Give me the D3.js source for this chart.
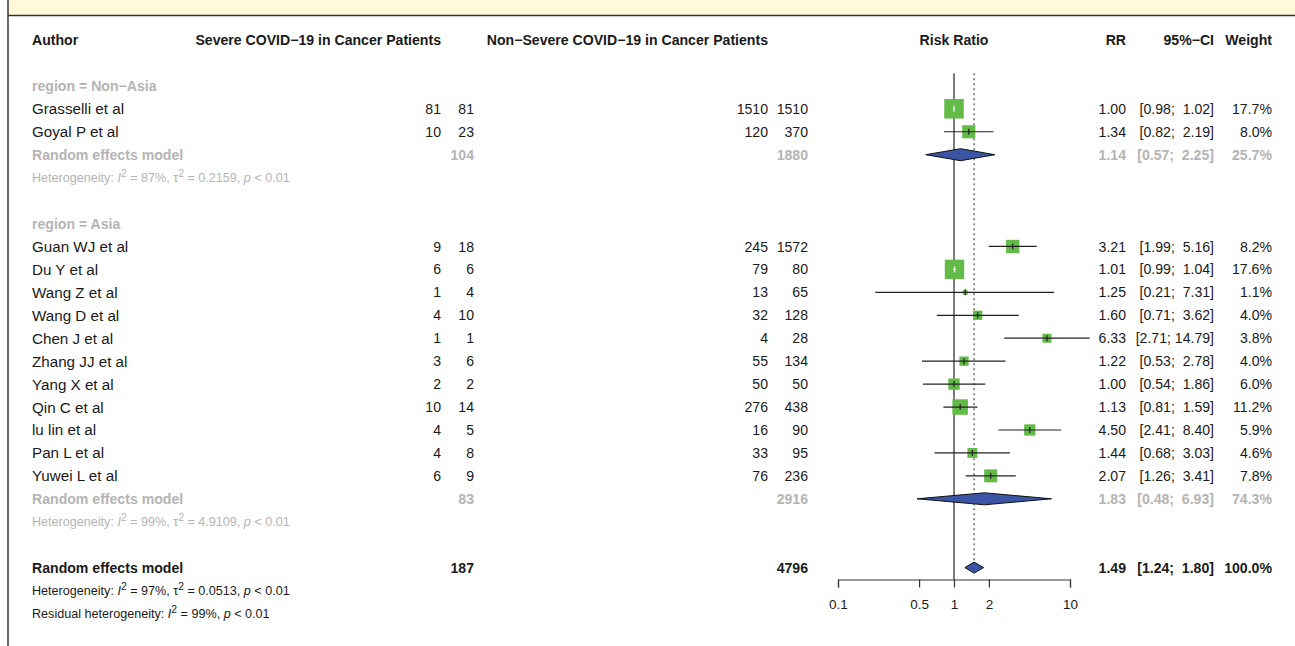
<!DOCTYPE html>
<html>
<head>
<meta charset="utf-8">
<script src="https://cdn.jsdelivr.net/npm/d3@7"></script>
<style>
  html, body { margin: 0; padding: 0; background: #fff; }
  svg text { font-family: "Liberation Sans", Arial, Helvetica, sans-serif; white-space: pre; }
</style>
</head>
<body>
<div id="chart"></div>
<script>
// study data
const authors = ["Grasselli et al", "Goyal P et al", "Guan WJ et al", "Du Y et al", "Wang Z et al", "Wang D et al",
  "Chen J et al", "Zhang JJ et al", "Yang X et al", "Qin C et al", "lu lin et al", "Pan L et al", "Yuwei L et al"];
const regions = ["Non-Asia", "Non-Asia", "Asia", "Asia", "Asia", "Asia", "Asia", "Asia", "Asia", "Asia", "Asia", "Asia", "Asia"];
const evSevere = [81, 10, 9, 6, 1, 4, 1, 3, 2, 10, 4, 4, 6];
const nSevere = [81, 23, 18, 6, 4, 10, 1, 6, 2, 14, 5, 8, 9];
const evNon = [1510, 120, 245, 79, 13, 32, 4, 55, 50, 276, 16, 33, 76];
const nNon = [1510, 370, 1572, 80, 65, 128, 28, 134, 50, 438, 90, 95, 236];
const rr = [1.00, 1.34, 3.21, 1.01, 1.25, 1.60, 6.33, 1.22, 1.00, 1.13, 4.50, 1.44, 2.07];
const lower = [0.98, 0.82, 1.99, 0.99, 0.21, 0.71, 2.71, 0.53, 0.54, 0.81, 2.41, 0.68, 1.26];
const upper = [1.02, 2.19, 5.16, 1.04, 7.31, 3.62, 14.79, 2.78, 1.86, 1.59, 8.40, 3.03, 3.41];
const weight = [17.7, 8.0, 8.2, 17.6, 1.1, 4.0, 3.8, 4.0, 6.0, 11.2, 5.9, 4.6, 7.8];

// subgroup summaries
const groups = ["Non-Asia", "Asia"];
const groupLabels = ["region = Non\u2212Asia", "region = Asia"];
const groupNSevere = [104, 83];
const groupNNon = [1880, 2916];
const groupRR = [1.14, 1.83];
const groupLower = [0.57, 0.48];
const groupUpper = [2.25, 6.93];
const groupWeight = [25.7, 74.3];
const groupI2 = ["87%", "99%"];
const groupTau2 = ["0.2159", "4.9109"];

// overall
const overall = {nSevere: 187, nNon: 4796, rr: 1.49, lower: 1.24, upper: 1.80, weight: 100.0, i2: "97%", tau2: "0.0513", residI2: "99%"};

const axisTicks = [0.1, 0.5, 1, 2, 10];

const W = 1295, H = 646;
const black = "#1a1a1a", grey = "#b4b4b4";
const green = "#63bb47", blue = "#3a55a3";

const svg = d3.select("#chart").append("svg").attr("width", W).attr("height", H);

// frame bits
svg.append("rect").attr("x", 8).attr("y", 0).attr("width", W - 8).attr("height", 15).attr("fill", "#fff9d9");
svg.append("line").attr("x1", 8).attr("x2", W).attr("y1", 15.5).attr("y2", 15.5).attr("stroke", "#333").attr("stroke-width", 1.6);
svg.append("line").attr("x1", 8).attr("x2", 8).attr("y1", 0).attr("y2", H).attr("stroke", "#444").attr("stroke-width", 1.6);

const x = d3.scaleLog().domain([0.1, 10]).range([838, 1070]);
const row = d3.scaleLinear().domain([0, 25]).range([40, 613.5]);
const side = d3.scaleSqrt().domain([0, 17.7]).range([0, 19.5]);

const colX = {author: 32, ev1: 441, n1: 474, ev2: 768, n2: 808, rr: 1126, ci: 1214, w: 1272};
const fs = 14.1, fsName = 15.2, fsSmall = 12.6;

function txt(xp, r, s, opt = {}) {
  return svg.append("text")
    .attr("x", xp).attr("y", row(r)).attr("dy", "0.36em")
    .attr("text-anchor", opt.anchor || "end")
    .attr("font-size", opt.size || fs)
    .attr("font-weight", opt.bold ? "bold" : "normal")
    .attr("fill", opt.color || black)
    .text(s);
}
const f2 = d3.format(".2f"), f1 = d3.format(".1f");
function ciText(l, u) {
  const a = f2(l), b = f2(u);
  return "[" + a + ";" + (b.length < 5 ? "  " : " ") + b + "]";
}

// header
txt(colX.author, 0, "Author", {anchor: "start", bold: true});
txt(colX.ev1, 0, "Severe COVID\u221219 in Cancer Patients", {bold: true});
txt(colX.ev2, 0, "Non\u2212Severe COVID\u221219 in Cancer Patients", {bold: true});
txt(x(1), 0, "Risk Ratio", {anchor: "middle", bold: true});
txt(colX.rr, 0, "RR", {bold: true});
txt(colX.ci, 0, "95%\u2212CI", {bold: true});
txt(colX.w, 0, "Weight", {bold: true});

function hetLine(r, color, i2, tau2, resid) {
  const t = svg.append("text").attr("x", colX.author).attr("y", row(r)).attr("dy", "0.36em")
    .attr("font-size", fsSmall).attr("fill", color);
  t.append("tspan").text(resid ? "Residual heterogeneity: " : "Heterogeneity: ");
  t.append("tspan").attr("font-style", "italic").text("I");
  t.append("tspan").attr("dy", "-0.5em").attr("font-size", fsSmall * 0.82).text("2");
  t.append("tspan").attr("dy", "0.41em").text(" = " + i2 + ", ");
  if (tau2 !== null) {
    t.append("tspan").text("\u03c4");
    t.append("tspan").attr("dy", "-0.5em").attr("font-size", fsSmall * 0.82).text("2");
    t.append("tspan").attr("dy", "0.41em").text(" = " + tau2 + ", ");
  }
  t.append("tspan").attr("font-style", "italic").text("p");
  t.append("tspan").text(" < 0.01");
}

function diamond(r, est, lo, hi, h) {
  const y = row(r);
  svg.append("path")
    .attr("d", d3.line()([[x(lo), y], [x(est), y - h / 2], [x(hi), y], [x(est), y + h / 2]]) + "Z")
    .attr("fill", blue).attr("stroke", "#111").attr("stroke-width", 1);
}

// reference lines
const axisY = 579.5;
svg.append("line").attr("x1", x(1)).attr("x2", x(1)).attr("y1", row(1.45)).attr("y2", axisY)
  .attr("stroke", "#444").attr("stroke-width", 1.4);
svg.append("line").attr("x1", x(overall.rr)).attr("x2", x(overall.rr)).attr("y1", row(1.45)).attr("y2", row(23) - 6)
  .attr("stroke", "#555").attr("stroke-width", 1.3).attr("stroke-dasharray", "2,3");

// rows
const groupStart = [2, 8];
groups.forEach((g, gi) => {
  const r0 = groupStart[gi];
  txt(colX.author, r0, groupLabels[gi], {anchor: "start", bold: true, color: grey});
  const idx = regions.map((d, i) => d === g ? i : -1).filter(i => i >= 0);
  idx.forEach((i, k) => {
    const r = r0 + 1 + k, y = row(r);
    txt(colX.author, r, authors[i], {anchor: "start", size: fsName});
    txt(colX.ev1, r, evSevere[i]);
    txt(colX.n1, r, nSevere[i]);
    txt(colX.ev2, r, evNon[i]);
    txt(colX.n2, r, nNon[i]);
    txt(colX.rr, r, f2(rr[i]));
    txt(colX.ci, r, ciText(lower[i], upper[i]));
    txt(colX.w, r, f1(weight[i]) + "%");
    const s = side(weight[i]);
    svg.append("rect").attr("x", x(rr[i]) - s / 2).attr("y", y - s / 2).attr("width", s).attr("height", s)
      .attr("fill", green);
    const inside = x(lower[i]) >= x(rr[i]) - s / 2 && x(upper[i]) <= x(rr[i]) + s / 2;
    const lc = inside ? "#fff" : "#222";
    svg.append("line").attr("x1", x(lower[i])).attr("x2", x(upper[i])).attr("y1", y).attr("y2", y)
      .attr("stroke", lc).attr("stroke-width", 1.2);
    svg.append("line").attr("x1", x(rr[i])).attr("x2", x(rr[i])).attr("y1", y - 3).attr("y2", y + 3)
      .attr("stroke", lc).attr("stroke-width", 1.2);
  });
  const rs = r0 + 1 + idx.length;
  txt(colX.author, rs, "Random effects model", {anchor: "start", bold: true, color: grey});
  txt(colX.n1, rs, groupNSevere[gi], {bold: true, color: grey});
  txt(colX.n2, rs, groupNNon[gi], {bold: true, color: grey});
  txt(colX.rr, rs, f2(groupRR[gi]), {bold: true, color: grey});
  txt(colX.ci, rs, ciText(groupLower[gi], groupUpper[gi]), {bold: true, color: grey});
  txt(colX.w, rs, f1(groupWeight[gi]) + "%", {bold: true, color: grey});
  diamond(rs, groupRR[gi], groupLower[gi], groupUpper[gi], 12);
  hetLine(rs + 1, grey, groupI2[gi], groupTau2[gi], false);
});

// overall
txt(colX.author, 23, "Random effects model", {anchor: "start", bold: true});
txt(colX.n1, 23, overall.nSevere, {bold: true});
txt(colX.n2, 23, overall.nNon, {bold: true});
txt(colX.rr, 23, f2(overall.rr), {bold: true});
txt(colX.ci, 23, ciText(overall.lower, overall.upper), {bold: true});
txt(colX.w, 23, f1(overall.weight) + "%", {bold: true});
diamond(23, overall.rr, overall.lower, overall.upper, 11);
hetLine(24, black, overall.i2, overall.tau2, false);
hetLine(25, black, overall.residI2, null, true);

// axis
const axis = d3.axisBottom(x).tickValues(axisTicks).tickFormat(d3.format("")).tickSizeOuter(0).tickSize(8).tickPadding(12);
const ag = svg.append("g").attr("transform", `translate(0,${axisY})`).call(axis);
ag.select(".domain").attr("stroke", "#333").attr("stroke-width", 1.2);
ag.selectAll(".tick line").attr("stroke", "#333").attr("stroke-width", 1.2);
ag.selectAll(".tick text").attr("font-size", 13.5).attr("fill", black)
  .attr("font-family", "Liberation Sans, Arial, sans-serif");
</script>
</body>
</html>
